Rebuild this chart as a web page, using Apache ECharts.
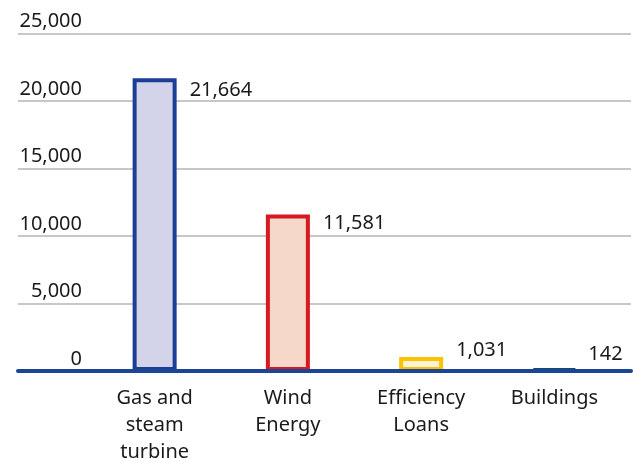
<!DOCTYPE html>
<html>
<head>
<meta charset="utf-8">
<script src="https://cdn.jsdelivr.net/npm/echarts@6/dist/echarts.min.js"></script>
<style>html,body{margin:0;padding:0;background:#fff;}#c{width:633px;height:461px;}</style>
</head>
<body>
<div id="c"></div>
<script>
var categories = ['Gas and\nsteam\nturbine', 'Wind\nEnergy', 'Efficiency\nLoans', 'Buildings'];
var values = [21664, 11581, 1031, 142];
var valueLabels = ['21,664', '11,581', '1,031', '142'];
var borderColors = ['#1b3f94', '#d71920', '#fdc300', '#0b4f6c'];
var fillColors = ['#d3d4ea', '#f6d8cb', '#fdf1d6', '#d0e0e8'];
var labelOffsets = [12, 9, -7, -14];
var yMin = 0, yMax = 25000, yStep = 5000;

var FONT = '"Noto Sans", "Open Sans", sans-serif';
var chart = echarts.init(document.getElementById('c'), null, {renderer: 'canvas'});

var data = values.map(function (v, i) {
  return {
    value: v,
    itemStyle: {color: fillColors[i], borderColor: borderColors[i], borderWidth: 4},
    label: {
      show: true,
      formatter: valueLabels[i],
      position: [57, labelOffsets[i]],
      align: 'left',
      verticalAlign: 'middle'
    }
  };
});

chart.setOption({
  animation: false,
  textStyle: {fontFamily: FONT},
  grid: [
    {left: 18, right: 2, top: 33.3, bottom: 90, containLabel: false, outerBoundsMode: 'none'},
    {left: 88, right: 12, top: 33.3, bottom: 90, containLabel: false, outerBoundsMode: 'none'}
  ],
  xAxis: [
    {
      type: 'value', gridIndex: 0, min: 0, max: 1, z: 10,
      axisLine: {show: true, lineStyle: {color: '#1d4595', width: 4}},
      axisTick: {show: false}, axisLabel: {show: false}, splitLine: {show: false}
    },
    {
      type: 'category', gridIndex: 1, data: categories,
      axisLine: {show: false}, axisTick: {show: false}, splitLine: {show: false},
      axisLabel: {
        color: '#1a1a1a', fontSize: 20, lineHeight: 27, margin: 14,
        fontFamily: FONT, interval: 0
      }
    }
  ],
  yAxis: [
    {
      type: 'value', gridIndex: 0, min: yMin, max: yMax, interval: yStep, z: 0,
      axisLine: {show: false}, axisTick: {show: false},
      splitLine: {show: true, lineStyle: {color: '#b4b4b4', width: 1.5}},
      axisLabel: {
        inside: true, align: 'right', verticalAlign: 'bottom', margin: 64,
        color: '#1a1a1a', fontSize: 20, fontFamily: FONT, padding: [0, 0, 2, 0],
        formatter: function (v) { return v.toLocaleString('en-US'); }
      }
    },
    {
      type: 'value', gridIndex: 1, min: yMin, max: yMax, interval: yStep,
      show: false, splitLine: {show: false}
    }
  ],
  series: [{
    type: 'bar',
    xAxisIndex: 1, yAxisIndex: 1,
    barWidth: 44,
    z: 2,
    data: data,
    label: {color: '#1a1a1a', fontSize: 20, fontFamily: FONT}
  }]
});
</script>
</body>
</html>
